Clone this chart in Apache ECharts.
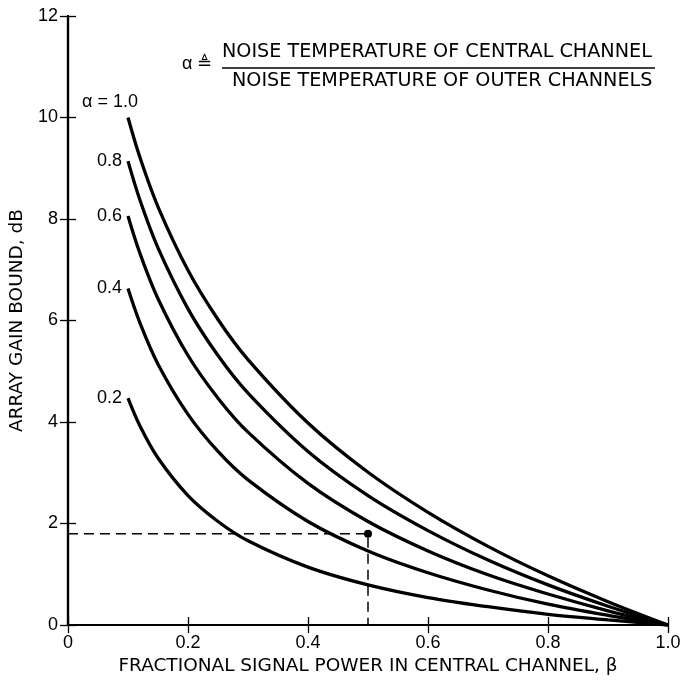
<!doctype html>
<html>
    <head>
        <meta charset="utf-8">
        <style>
            html, body { margin: 0; padding: 0; background: #fff; }
            #main { width: 686px; height: 684px; }
        </style>
    </head>
    <body>
        <div id="main"></div>
        <script src="https://cdn.jsdelivr.net/npm/echarts@6/dist/echarts.min.js"></script>
        <script>
            var FONT = '"Liberation Sans", Arial, Helvetica, sans-serif';
            var WIDE = '"DejaVu Sans", "Liberation Sans", sans-serif';

            // beta values (fractional signal power in central channel)
            var beta = [0.1, 0.12, 0.15, 0.2, 0.25, 0.3, 0.4, 0.5, 0.6, 0.7, 0.8, 0.9, 1.0];

            // array gain bound (dB)
            var gainA10 = [10.0, 9.21, 8.24, 6.99, 6.02, 5.23, 3.98, 3.01, 2.22, 1.55, 0.97, 0.46, 0];
            var gainA08 = [9.14, 8.37, 7.43, 6.23, 5.31, 4.57, 3.42, 2.55, 1.86, 1.28, 0.79, 0.37, 0];
            var gainA06 = [8.06, 7.32, 6.43, 5.31, 4.47, 3.80, 2.79, 2.04, 1.46, 0.99, 0.61, 0.28, 0];
            var gainA04 = [6.63, 5.95, 5.14, 4.15, 3.42, 2.86, 2.04, 1.46, 1.03, 0.69, 0.41, 0.19, 0];
            var gainA02 = [4.47, 3.92, 3.29, 2.55, 2.04, 1.66, 1.14, 0.79, 0.54, 0.36, 0.21, 0.10, 0];

            var curveNames = ['α = 1.0', '0.8', '0.6', '0.4', '0.2'];
            var curveData = [gainA10, gainA08, gainA06, gainA04, gainA02];

            // example point marked on the chart
            var markBeta = 0.5;
            var markGain = 1.8;

            var chart = echarts.init(document.getElementById('main'));

            function pairs(ys) {
                var out = [];
                for (var i = 0; i < beta.length; i++) out.push([beta[i], ys[i]]);
                return out;
            }

            var series = [];
            curveData.forEach(function (ys, k) {
                series.push({
                    type: 'line',
                    name: curveNames[k],
                    data: pairs(ys),
                    smooth: 0.35,
                    symbol: 'none',
                    lineStyle: { color: '#000', width: 3.3 },
                    z: 3
                });
                // curve name next to its first point
                series.push({
                    type: 'scatter',
                    data: [[beta[0], ys[0]]],
                    symbolSize: 0,
                    silent: true,
                    itemStyle: { opacity: 1, color: '#000' },
                    label: {
                        show: true,
                        formatter: curveNames[k],
                        position: k === 0 ? 'top' : 'left',
                        distance: 6,
                        offset: k === 0 ? [-18, 0] : [0, 0],
                        color: '#000',
                        fontFamily: FONT,
                        fontSize: 18
                    }
                });
            });

            // dashed guide lines to the example point
            series.push({
                type: 'line',
                data: [[0, markGain], [markBeta, markGain], [markBeta, 0]],
                symbol: 'none',
                lineStyle: { color: '#000', width: 1.5, type: [10, 6] },
                z: 2
            });
            series.push({
                type: 'scatter',
                data: [[markBeta, markGain]],
                symbolSize: 8,
                itemStyle: { color: '#000', opacity: 1 },
                z: 4
            });

            var tick = { inside: true, length: 8, lineStyle: { color: '#000', width: 1.3 } };
            var line = { lineStyle: { color: '#000', width: 2.2 } };

            chart.setOption({
                animation: false,
                backgroundColor: '#fff',
                grid: { left: 68, right: 18, top: 16, bottom: 59 },
                xAxis: [{
                    type: 'value',
                    min: 0, max: 1, interval: 0.2,
                    name: 'FRACTIONAL SIGNAL POWER IN CENTRAL CHANNEL, β',
                    nameLocation: 'middle',
                    nameGap: 30,
                    nameTextStyle: { color: '#000', fontFamily: WIDE, fontSize: 18.5 },
                    axisLine: line,
                    axisTick: tick,
                    axisLabel: {
                        color: '#000', fontFamily: FONT, fontSize: 18, margin: 9,
                        formatter: function (v) {
                            if (v === 0) return '0';
                            return v.toFixed(1);
                        }
                    },
                    splitLine: { show: false }
                }, {
                    type: 'value',
                    position: 'top',
                    min: 0, max: 1, interval: 0.2,
                    axisLine: line,
                    axisTick: tick,
                    axisLabel: { show: false },
                    splitLine: { show: false }
                }],
                yAxis: [{
                    type: 'value',
                    min: 0, max: 12, interval: 2,
                    name: 'ARRAY GAIN BOUND, dB',
                    nameLocation: 'middle',
                    nameGap: 38,
                    nameTextStyle: { color: '#000', fontFamily: WIDE, fontSize: 18.5 },
                    axisLine: line,
                    axisTick: tick,
                    axisLabel: { color: '#000', fontFamily: FONT, fontSize: 18, margin: 10 },
                    splitLine: { show: false }
                }, {
                    type: 'value',
                    position: 'right',
                    min: 0, max: 12, interval: 2,
                    axisLine: line,
                    axisTick: tick,
                    axisLabel: { show: false },
                    splitLine: { show: false }
                }],
                graphic: [
                    {
                        type: 'text', left: 182, top: 55,
                        style: { text: 'α ≜', fill: '#000', font: '18px ' + FONT }
                    },
                    {
                        type: 'text', left: 222, top: 43,
                        style: { text: 'NOISE TEMPERATURE OF CENTRAL CHANNEL', fill: '#000', font: '19.2px ' + WIDE }
                    },
                    {
                        type: 'line',
                        shape: { x1: 222, y1: 68, x2: 655, y2: 68 },
                        style: { stroke: '#000', lineWidth: 1.3 }
                    },
                    {
                        type: 'text', left: 232, top: 72,
                        style: { text: 'NOISE TEMPERATURE OF OUTER CHANNELS', fill: '#000', font: '19.2px ' + WIDE }
                    }
                ],
                series: series
            });

            window.addEventListener('resize', function () {
                chart.resize();
            });
        </script>
    </body>
</html>
